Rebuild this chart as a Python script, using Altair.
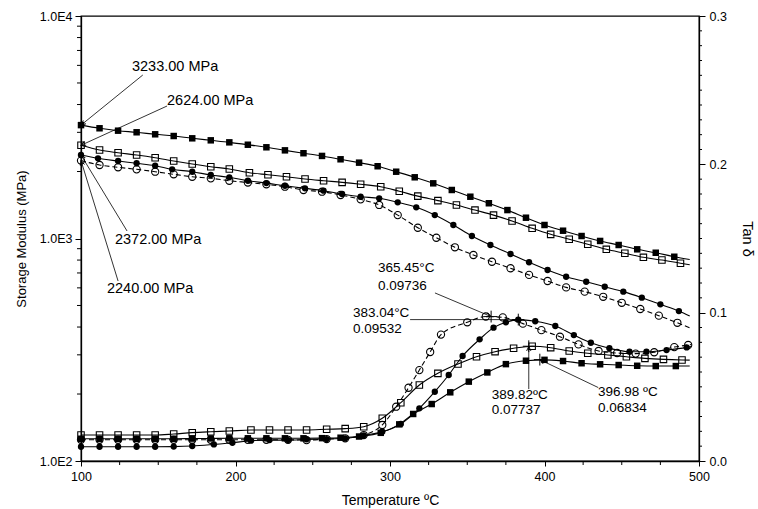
import math
import altair as alt
import pandas as pd

# ---------------- data ----------------
# Storage modulus E' (MPa), left log axis
FS_E_T = [100,112,124,136,148,160,172,184,196,208,220,232,244,256,268,280,292,304,316,328,340,352,364,376,388,400,412,424,436,448,460,472,484,494]
FS_E_V = [3233,3129,3052,3002,2940,2888,2820,2762,2705,2639,2570,2490,2417,2350,2270,2192,2112,1996,1884,1770,1652,1541,1440,1342,1240,1150,1084,1026,975,935,894,863,828,805]

OS_E_T = [100,112,124,136,148,160,172,184,196,209,221,233,245,257,269,281,294,306,318,331,343,355,367,379,392,404,416,428,440,452,464,476,488,494]
OS_E_V = [2624,2498,2429,2373,2307,2230,2162,2102,2053,1975,1935,1895,1851,1818,1788,1752,1709,1630,1550,1480,1415,1342,1274,1199,1111,1044,992,942,894,858,823,800,774,762]

FC_E_T = [100,111,124,136,148,159,172,184,196,208,220,232,245,257,269,281,293,305,317,329,341,353,365,378,390,402,414,427,439,451,463,475,487,494]
FC_E_V = [2372,2293,2230,2178,2124,2046,1996,1929,1884,1818,1775,1725,1680,1640,1585,1541,1516,1454,1381,1274,1150,1026,935,852,782,722,673,639,607,577,542,506,472,448]

OC_E_T = [100,112,124,136,148,160,172,184,196,208,220,232,244,256,268,281,293,305,318,330,342,354,366,378,390,402,414,426,438,450,462,474,486,494]
OC_E_V = [2240,2140,2089,2046,1996,1943,1895,1864,1818,1785,1752,1709,1652,1623,1569,1500,1415,1274,1118,1008,913,843,786,735,686,644,603,577,547,514,482,450,418,397]

# Tan delta, right linear axis
FS_T_T = [100,112,124,136,148,160,172,184,196,208,220,232,244,256,268,280,294,306,315,327,339,351,363,375,388,400,412,424,436,448,460,472,485,494]
FS_T_V = [.0150,.0150,.0150,.0150,.0150,.0150,.0151,.0152,.0153,.0153,.0153,.0153,.0153,.0154,.0157,.0165,.0190,.0247,.0317,.0384,.0463,.0535,.0597,.0653,.0676,.0682,.0674,.0659,.0652,.0647,.0642,.0640,.0640,.0640]

OS_T_T = [100,112,124,136,148,160,172,184,196,210,222,234,246,259,271,283,295,307,319,331,344,356,368,380,392,404,416,428,441,453,465,477,489,494]
OS_T_V = [.0175,.0175,.0175,.0175,.0175,.0182,.0191,.0197,.0202,.0209,.0209,.0209,.0209,.0214,.0218,.0231,.0288,.0393,.0512,.0591,.0654,.0703,.0737,.0760,.0774,.0764,.0742,.0726,.0715,.0703,.0692,.0685,.0681,.0680]

FC_T_T = [100,112,124,136,148,160,172,186,198,210,222,234,246,259,271,283,295,307,319,329,338,347,358,367,375,383,394,407,419,430,442,455,466,479,492,495]
FC_T_V = [.0096,.0096,.0096,.0096,.0096,.0097,.0101,.0112,.0123,.0137,.0141,.0141,.0146,.0148,.0153,.0173,.0197,.0250,.0355,.0467,.0580,.0708,.0820,.0899,.0935,.0953,.0942,.0910,.0849,.0797,.0760,.0737,.0737,.0748,.0766,.0772]

OC_T_T = [100,112,124,136,148,160,172,184,196,208,220,234,246,259,271,283,295,304,312,319,326,333,350,362,373,386,398,410,422,435,447,459,471,484,493,495]
OC_T_V = [.0143,.0143,.0143,.0143,.0143,.0143,.0143,.0143,.0143,.0143,.0143,.0143,.0141,.0148,.0153,.0175,.0243,.0366,.0494,.0613,.0735,.0852,.0935,.0974,.0968,.0926,.0882,.0838,.0786,.0742,.0728,.0724,.0733,.0768,.0782,.0785]

# Axis ticks and labels
X_MAJOR = [100, 200, 300, 400, 500]
X_MINOR = [125, 150, 175, 225, 250, 275, 325, 350, 375, 425, 450, 475]
E_MAJOR = [100, 1000, 10000]
E_LABELS = ["1.0E2", "1.0E3", "1.0E4"]
E_MINOR = [200, 300, 400, 500, 600, 700, 800, 900, 2000, 3000, 4000, 5000, 6000, 7000, 8000, 9000]
TAN_MAJOR = [0.0, 0.1, 0.2, 0.3]
TAN_MINOR = [0.01, 0.02, 0.03, 0.04, 0.05, 0.06, 0.07, 0.08, 0.09,
             0.11, 0.12, 0.13, 0.14, 0.15, 0.16, 0.17, 0.18, 0.19,
             0.21, 0.22, 0.23, 0.24, 0.25, 0.26, 0.27, 0.28, 0.29]

# Annotations: storage modulus (left axis)
E_ANN_TEXT = ["3233.00 MPa", "2624.00 MPa", "2372.00 MPa", "2240.00 MPa"]
E_ANN_TX = [133, 155.7, 122, 116.8]
E_ANN_TY = [5900, 4150, 985, 593]
E_LEAD_T1 = [140, 155.7, 129.8, 124]
E_LEAD_V1 = [5430, 3940, 1081, 644]
E_LEAD_T2 = [100, 100, 100, 100]
E_LEAD_V2 = [3233, 2624, 2372, 2240]

# Annotations: tan delta peaks (right axis)
P_ANN_LINE1 = ["365.45°C", "383.04°C", "389.82ºC", "396.98 ºC"]
P_ANN_LINE2 = ["0.09736", "0.09532", "0.07737", "0.06834"]
P_ANN_TX = [292.2, 276, 365.8, 434.6]
P_ANN_TY1 = [0.1303, 0.0998, 0.0442, 0.0465]
P_ANN_TY2 = [0.1178, 0.0892, 0.0342, 0.0357]
P_LEAD_T1 = [329.1, 313, 389.82, 434.8]
P_LEAD_V1 = [0.1133, 0.09532, 0.0485, 0.0495]
P_PEAK_T = [365.45, 383.04, 389.82, 396.98]
P_PEAK_V = [0.09736, 0.09532, 0.07737, 0.06834]
P_ARROW = [True, False, True, True]

# ---------------- layout / style ----------------
W, H = 618, 445
FONT = "Liberation Sans"
X_DOM = [100, 500]
E_DOM = [100, 10000]
T_DOM = [0.0, 0.3]

xs = alt.Scale(domain=X_DOM, nice=False, zero=False)
es = alt.Scale(type="log", domain=E_DOM, nice=False)
ts = alt.Scale(domain=T_DOM, nice=False, zero=False)


def px_x(t):
    return (t - X_DOM[0]) / (X_DOM[1] - X_DOM[0]) * W


def px_e(v):
    return (math.log10(E_DOM[1]) - math.log10(v)) / (math.log10(E_DOM[1]) - math.log10(E_DOM[0])) * H


def px_t(v):
    return (T_DOM[1] - v) / (T_DOM[1] - T_DOM[0]) * H


def head_angle(x1, y1, x2, y2):
    return math.degrees(math.atan2(x2 - x1, -(y2 - y1))) % 360


common_axis = dict(labelFont=FONT, titleFont=FONT, labelColor="black", titleColor="black",
                   domainColor="black", tickColor="black", grid=False, titleFontWeight="normal",
                   domainWidth=1.3, tickWidth=1, labelOverlap=False, labelFlush=False,
                   labelBound=False)

XA = alt.Axis(values=X_MAJOR, format="d", title="Temperature ºC", tickSize=5,
              labelPadding=4, labelFontSize=12.5, titleFontSize=14, titlePadding=11,
              **common_axis)

e_expr = "'" + E_LABELS[-1] + "'"
for v, lab in reversed(list(zip(E_MAJOR[:-1], E_LABELS[:-1]))):
    e_expr = f"datum.value <= {v * 1.5} ? '{lab}' : " + e_expr
EA = alt.Axis(values=E_MAJOR, labelExpr=e_expr, title="Storage Modulus (MPa)", tickSize=6,
              labelPadding=3, labelFontSize=12.5, titleFontSize=13, titlePadding=11,
              **common_axis)

TA = alt.Axis(values=TAN_MAJOR, format=".1f", orient="right", title="Tan δ", tickSize=6,
              labelPadding=4, labelFontSize=12.5, titleFontSize=14.5, titlePadding=13,
              **common_axis)


def X():
    return alt.X("T:Q", scale=xs, axis=XA)


def Y(scale, axis):
    return alt.Y("v:Q", scale=scale, axis=axis)


STYLES = [
    dict(shape="square", filled=True, size=42),
    dict(shape="square", filled=False, size=42),
    dict(shape="circle", filled=True, size=40),
    dict(shape="circle", filled=False, size=52),
]
DASHES = [None, None, None, [5, 3]]


def series_layers(T, V, style, dash, yscale, yaxis):
    df = pd.DataFrame({"T": T, "v": V})
    line_kw = dict(color="black", strokeWidth=1.1, interpolate="monotone")
    if dash:
        line_kw["strokeDash"] = dash
    line = alt.Chart(df).mark_line(**line_kw).encode(x=X(), y=Y(yscale, yaxis), order="T:Q")
    pts = alt.Chart(df.iloc[:-1]).mark_point(
        shape=style["shape"], filled=style["filled"], size=style["size"],
        color="black", opacity=1, strokeWidth=1.1,
    ).encode(x=X(), y=Y(yscale, yaxis))
    return [line, pts]


# ---------------- left (storage modulus) group ----------------
left = []
E_SETS = [(FS_E_T, FS_E_V), (OS_E_T, OS_E_V), (FC_E_T, FC_E_V), (OC_E_T, OC_E_V)]
for i, (T, V) in enumerate(E_SETS):
    left += series_layers(T, V, STYLES[i], DASHES[i], es, EA)

left.append(alt.Chart(pd.DataFrame({"T": X_MINOR})).mark_rule(color="black", strokeWidth=1).encode(
    x=X(), y=alt.value(H), y2=alt.value(H + 4)))
left.append(alt.Chart(pd.DataFrame({"v": E_MINOR})).mark_rule(color="black", strokeWidth=1).encode(
    y=Y(es, EA), x=alt.value(-4), x2=alt.value(0)))

e_text = pd.DataFrame({"T": E_ANN_TX, "v": E_ANN_TY, "txt": E_ANN_TEXT})
left.append(alt.Chart(e_text).mark_text(align="left", baseline="middle", font=FONT, fontSize=14.5,
                                        color="black").encode(x=X(), y=Y(es, EA), text="txt:N"))

e_lead = pd.DataFrame({"T": E_LEAD_T1, "v": E_LEAD_V1, "T2": E_LEAD_T2, "v2": E_LEAD_V2})
left.append(alt.Chart(e_lead).mark_rule(color="black", strokeWidth=0.8).encode(
    x=X(), y=Y(es, EA), x2="T2:Q", y2="v2:Q"))

e_heads = pd.DataFrame({
    "T": E_LEAD_T2, "v": E_LEAD_V2,
    "ang": [head_angle(px_x(a), px_e(b), px_x(c), px_e(d))
            for a, b, c, d in zip(E_LEAD_T1, E_LEAD_V1, E_LEAD_T2, E_LEAD_V2)],
})
ARROW = "M-0.45,1L0,0L0.45,1"
left.append(alt.Chart(e_heads).mark_point(shape=ARROW, filled=False, size=90, color="black",
                                          opacity=1, strokeWidth=0.9).encode(
    x=X(), y=Y(es, EA), angle=alt.Angle("ang:Q", scale=None)))

left_group = alt.layer(*left)

# ---------------- right (tan delta) group ----------------
right = []
T_SETS = [(FS_T_T, FS_T_V), (OS_T_T, OS_T_V), (FC_T_T, FC_T_V), (OC_T_T, OC_T_V)]
for i, (T, V) in enumerate(T_SETS):
    right += series_layers(T, V, STYLES[i], DASHES[i], ts, TA)

right.append(alt.Chart(pd.DataFrame({"v": TAN_MINOR})).mark_rule(color="black", strokeWidth=1).encode(
    y=Y(ts, TA), x=alt.value(W), x2=alt.value(W + 3)))

p_text = pd.DataFrame({
    "T": P_ANN_TX + P_ANN_TX,
    "v": P_ANN_TY1 + P_ANN_TY2,
    "txt": P_ANN_LINE1 + P_ANN_LINE2,
})
right.append(alt.Chart(p_text).mark_text(align="left", baseline="middle", font=FONT, fontSize=13.5,
                                         color="black").encode(x=X(), y=Y(ts, TA), text="txt:N"))

p_lead = pd.DataFrame({"T": P_LEAD_T1, "v": P_LEAD_V1, "T2": P_PEAK_T, "v2": P_PEAK_V})
right.append(alt.Chart(p_lead).mark_rule(color="black", strokeWidth=0.8).encode(
    x=X(), y=Y(ts, TA), x2="T2:Q", y2="v2:Q"))

p_cross = pd.DataFrame({"T": P_PEAK_T, "v": P_PEAK_V})
right.append(alt.Chart(p_cross).mark_point(shape="M-1,0L1,0M0,-1L0,1", filled=False, size=140,
                                           color="black", opacity=1, strokeWidth=1).encode(
    x=X(), y=Y(ts, TA)))

hp = [(a, b, c, d) for a, b, c, d, f in zip(P_LEAD_T1, P_LEAD_V1, P_PEAK_T, P_PEAK_V, P_ARROW) if f]
p_heads = pd.DataFrame({
    "T": [h[2] for h in hp], "v": [h[3] for h in hp],
    "ang": [head_angle(px_x(a), px_t(b), px_x(c), px_t(d)) for a, b, c, d in hp],
})
right.append(alt.Chart(p_heads).mark_point(shape=ARROW, filled=False, size=90, color="black",
                                           opacity=1, strokeWidth=0.9).encode(
    x=X(), y=Y(ts, TA), angle=alt.Angle("ang:Q", scale=None)))

right_group = alt.layer(*right)

chart = (
    alt.layer(left_group, right_group)
    .resolve_scale(y="independent")
    .properties(
        width=W, height=H,
        autosize=alt.AutoSizeParams(type="none"),
        padding={"left": 81, "top": 16, "right": 59, "bottom": 48},
        background="white",
    )
    .configure_view(stroke="black", strokeWidth=1.3)
)

chart.save("out.html", embed_options={"renderer": "svg", "actions": False})
